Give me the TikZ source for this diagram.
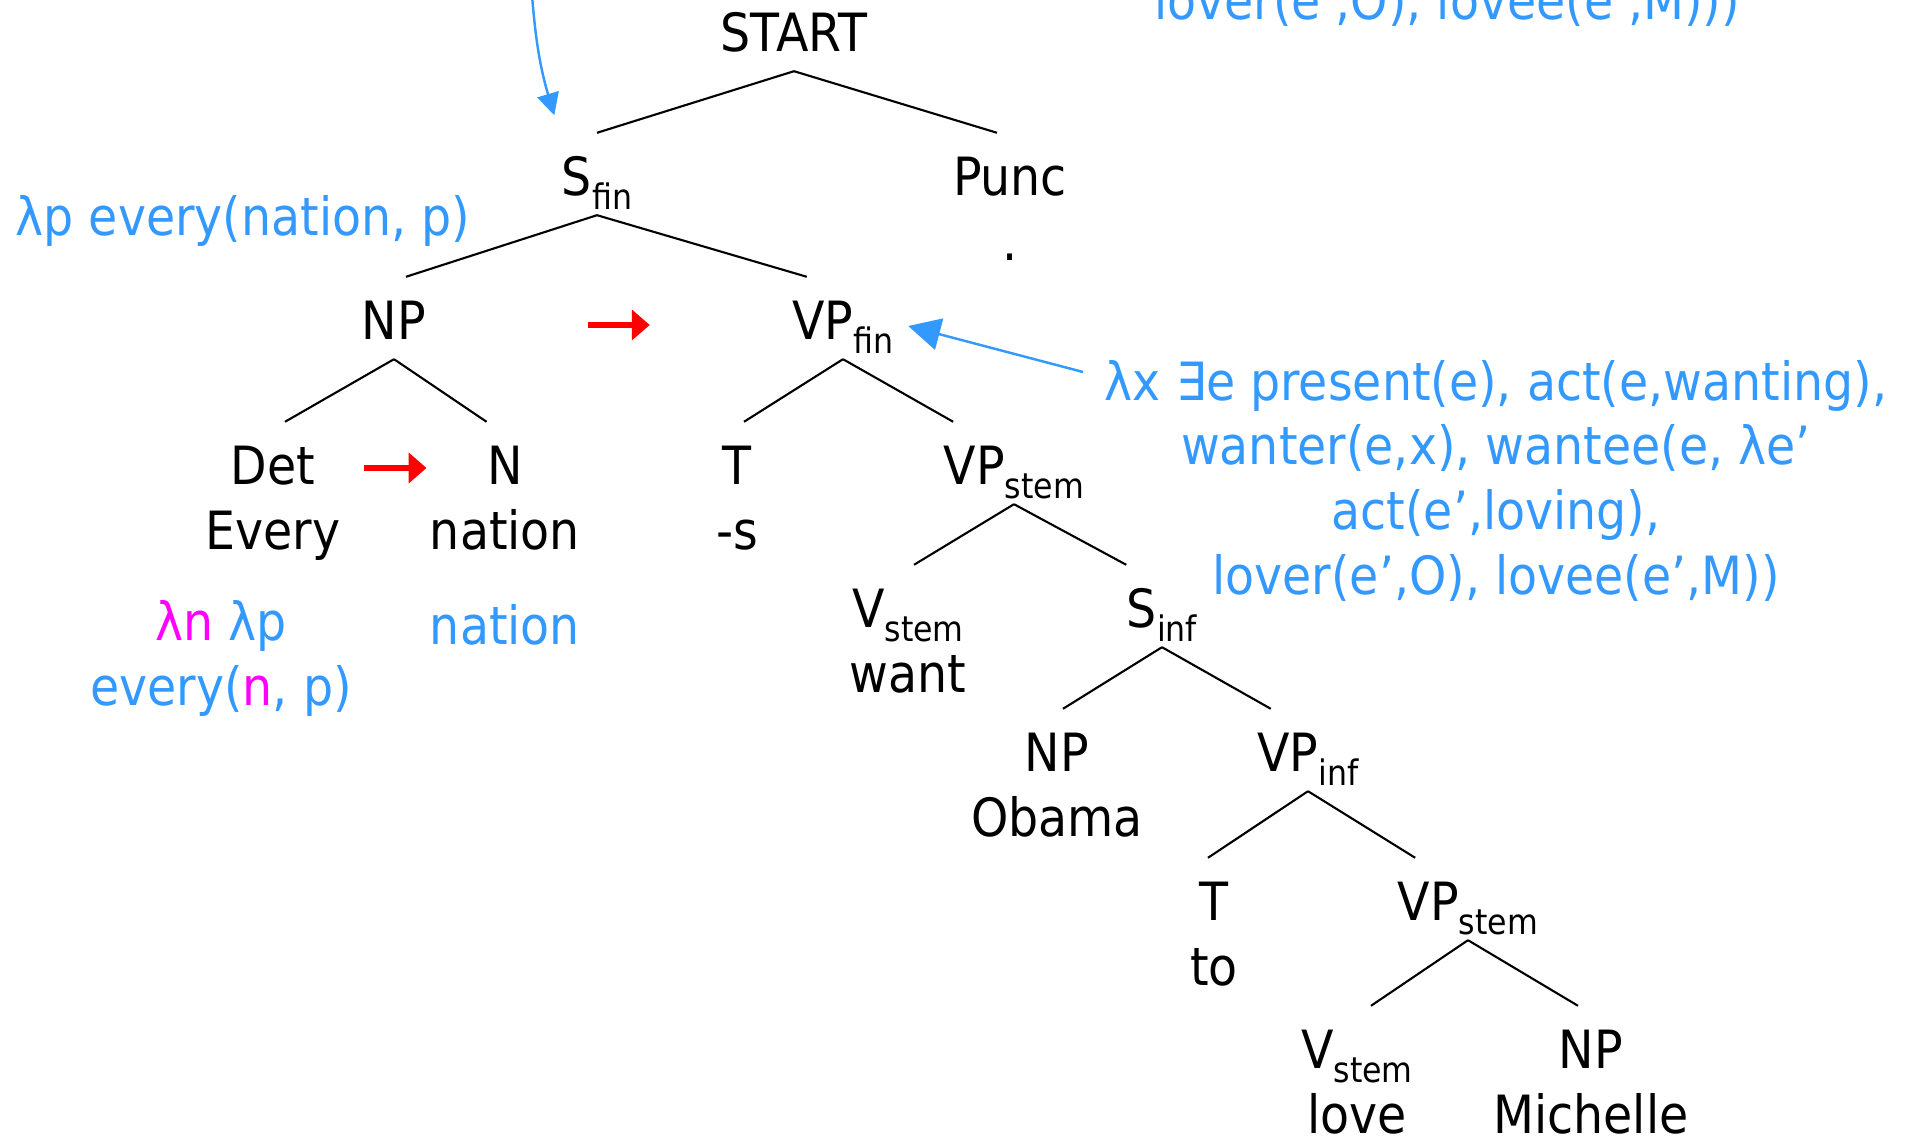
\documentclass[tikz,border=0pt]{standalone}
\usepackage{fontspec}
\setmainfont{DejaVu Sans}[FakeStretch=0.9]
\usetikzlibrary{arrows.meta,positioning}
\definecolor{semblue}{RGB}{51,153,255}
\definecolor{lammag}{RGB}{255,0,255}
\newcommand{\catsub}[1]{\raisebox{-0.25em}{\fontsize{10}{12}\selectfont #1}}

\begin{document}
\begin{tikzpicture}[
    every node/.style={font=\fontsize{15}{18.4}\selectfont},
    cat/.style={inner sep=0pt, text height=0.625cm, text depth=0.185cm, anchor=base},
    word/.style={inner sep=0pt, text height=0.45cm, text depth=0.15cm},
    sem/.style={text=semblue, inner sep=0pt, align=center},
    branch/.style={draw, line width=0.6pt},
    combine/.style={draw=red, line width=1.5pt, -{Triangle[length=0.18cm,width=0.30cm]}},
    semarrow/.style={draw=semblue, line width=0.7pt, -{Triangle[length=0.32cm,width=0.32cm]}}
]
\useasboundingbox (0,0) rectangle (19.13,-11.38);

% categories
\node[cat] (start) at (7.94,-0.52) {START};
\node[cat] (sfin) at (5.97,-1.96) {S\catsub{fin}};
\node[cat] (punc) at (10.10,-1.96) {Punc};
\node[cat] (np1) at (3.94,-3.40) {NP};
\node[cat] (vpfin) at (8.43,-3.40) {VP\catsub{fin}};
\node[cat] (det) at (2.73,-4.85) {Det};
\node[cat] (noun) at (5.05,-4.85) {N};
\node[cat] (t1) at (7.37,-4.85) {T};
\node[cat] (vpstem1) at (10.14,-4.85) {VP\catsub{stem}};
\node[cat] (vstem1) at (9.08,-6.28) {V\catsub{stem}};
\node[cat] (sinf) at (11.62,-6.28) {S\catsub{inf}};
\node[cat] (np2) at (10.57,-7.72) {NP};
\node[cat] (vpinf) at (13.08,-7.72) {VP\catsub{inf}};
\node[cat] (t2) at (12.14,-9.21) {T};
\node[cat] (vpstem2) at (14.68,-9.21) {VP\catsub{stem}};
\node[cat] (vstem2) at (13.57,-10.69) {V\catsub{stem}};
\node[cat] (np3) at (15.91,-10.69) {NP};

% words
\node[word, below=0pt of punc] (dot) {.};
\node[word, below=0pt of det] (every) {Every};
\node[word, below=0pt of noun] (nation) {nation};
\node[word, below=0pt of t1] (suffix) {-s};
\node[word, below=0pt of vstem1] (want) {want};
\node[word, below=0pt of np2] (obama) {Obama};
\node[word, below=0pt of t2] (to) {to};
\node[word, below=0pt of vstem2] (love) {love};
\node[word, below=0pt of np3] (michelle) {Michelle};

% branches
\draw[branch] (start.south) -- (sfin.north);
\draw[branch] (start.south) -- ([xshift=-0.13cm]punc.north);
\draw[branch] (sfin.south) -- ([xshift=0.12cm]np1.north);
\draw[branch] (sfin.south) -- ([xshift=0.15cm]vpfin.north west);
\draw[branch] (np1.south) -- ([xshift=0.12cm]det.north);
\draw[branch] (np1.south) -- (noun.north west);
\draw[branch] (vpfin.south) -- ([xshift=0.07cm]t1.north);
\draw[branch] (vpfin.south) -- ([xshift=0.10cm]vpstem1.north west);
\draw[branch] (vpstem1.south) -- ([xshift=0.06cm]vstem1.north);
\draw[branch] (vpstem1.south) -- (sinf.north west);
\draw[branch] (sinf.south) -- ([xshift=0.06cm]np2.north);
\draw[branch] (sinf.south) -- ([xshift=0.14cm]vpinf.north west);
\draw[branch] (vpinf.south) -- ([xshift=-0.06cm]t2.north);
\draw[branch] (vpinf.south) -- ([xshift=0.18cm]vpstem2.north west);
\draw[branch] (vpstem2.south) -- ([xshift=0.14cm]vstem2.north);
\draw[branch] (vpstem2.south) -- ([xshift=-0.13cm]np3.north);

% semantics
\node[sem, anchor=base] (semstart) at (14.47,-0.20) {lover(e’,O), lovee(e’,M)))};
\node[sem, anchor=base west] (semsfin) at (0.15,-2.36) {λp every(nation, p)};
\node[sem] (semdet) at (2.21,-6.585) {\textcolor{lammag}{λn} λp\\every(\textcolor{lammag}{n}, p)};
\node[sem, anchor=base] (semnoun) at (5.05,-6.45) {nation};
\node[sem] (semvp) at (14.96,-4.805) {λx ∃e present(e), act(e,wanting),\\wanter(e,x), wantee(e, λe’\\act(e’,loving),\\lover(e’,O), lovee(e’,M))};

\coordinate (semtop) at (5.32,0.05);
\coordinate (semtail) at (10.83,-3.72);
\draw[semarrow, -{Triangle[length=0.22cm,width=0.22cm]}] (semtop) to[bend right=6] ([shift={(-0.07,0.175)}]sfin.north west);
\draw[semarrow] (semtail) -- ([shift={(0.14,-0.08)}]vpfin.east);

% order of combination
\draw[combine, shorten <=0.48cm, shorten >=0.60cm] ([yshift=-0.05cm]det.east) -- ([yshift=-0.05cm]noun.west);
\draw[combine, shorten <=1.61cm, shorten >=1.42cm] ([yshift=-0.07cm]np1.east) -- ([yshift=-0.07cm]vpfin.west);
\end{tikzpicture}
\end{document}
